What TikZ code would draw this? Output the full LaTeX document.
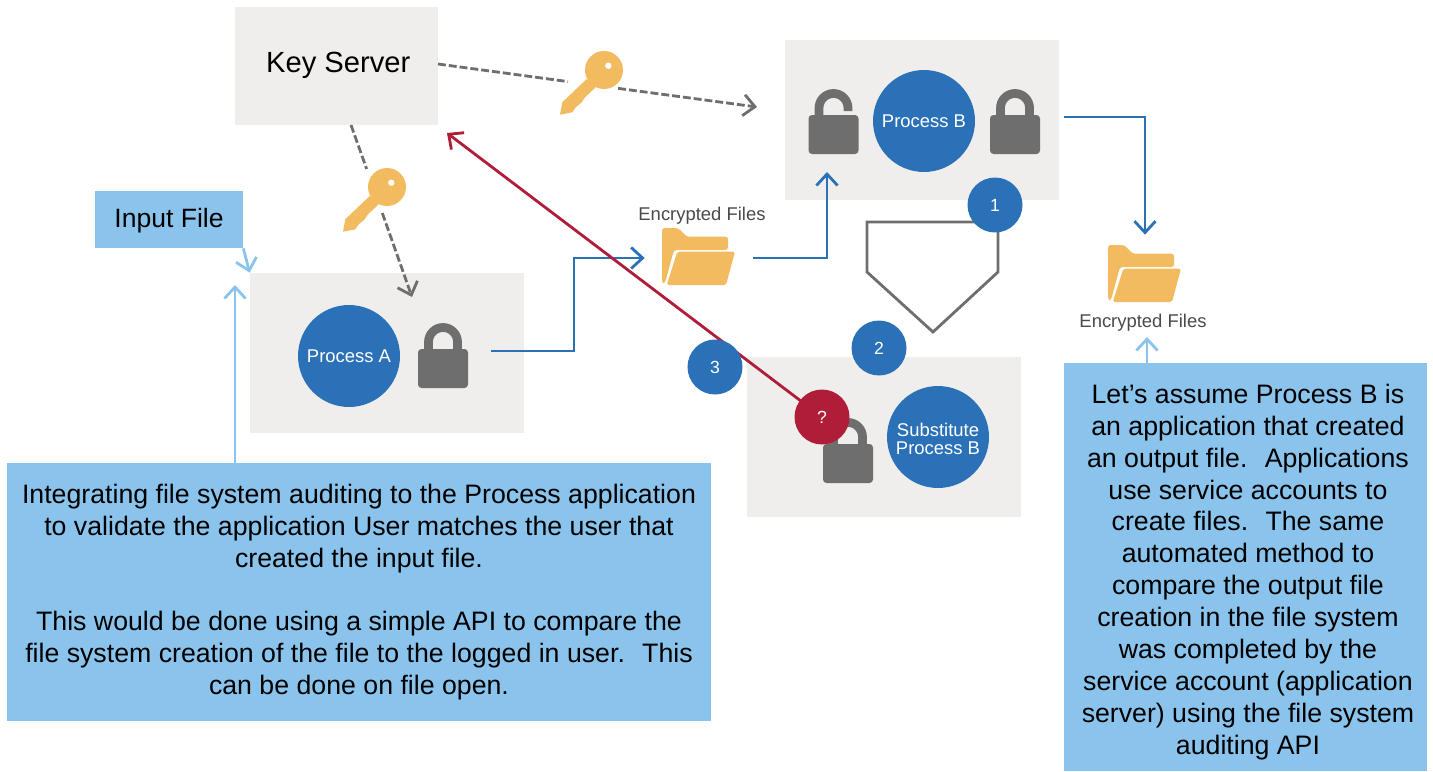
\documentclass[tikz,border=0pt]{standalone}
\usepackage{fontspec}
\setmainfont{Liberation Sans}
\usepackage{xcolor}
\usetikzlibrary{arrows.meta}

\definecolor{boxgray}{HTML}{EFEEED}
\definecolor{procblue}{HTML}{2B71B8}
\definecolor{noteblue}{HTML}{8AC4ED}
\definecolor{keyorange}{HTML}{F3BB60}
\definecolor{alertred}{HTML}{B01D38}
\definecolor{lockgray}{HTML}{6E6E6E}
\definecolor{labelgray}{HTML}{4A4A4A}

\tikzset{
    panel/.style={fill=boxgray, minimum width=5.48cm, minimum height=3.2cm, inner sep=0pt},
    process/.style={circle, fill=procblue, text=white, minimum size=2.04cm, inner sep=0pt, align=center,
        font=\fontsize{10.5}{10.2}\selectfont},
    badge/.style={circle, fill=procblue, text=white, minimum size=1.1cm, inner sep=0pt,
        font=\fontsize{10}{12}\selectfont},
    note/.style={fill=noteblue, inner sep=0pt, align=center, font=\fontsize{15.2}{18.15}\selectfont},
    slot/.style={inner sep=0pt, minimum width=#1},
    flow/.style={draw=procblue, line width=1.6pt, ->},
    noteflow/.style={draw=noteblue, line width=1.6pt, ->},
    keyflow/.style={draw=lockgray, line width=1.6pt, dash pattern=on 4.5pt off 1.7pt},
    padlock/.pic={
        \fill[lockgray, rounded corners=2pt] (-25,0) rectangle (25,-39);
        \draw[lockgray, line width=5pt] (-14.5,-1) -- (-14.5,7) arc (180:0:14.5) -- (14.5,-1);
    },
    openlock/.pic={
        \fill[lockgray, rounded corners=2pt] (-25,0) rectangle (25,-39);
        \draw[lockgray, line width=5pt] (-14.5,-1) -- (-14.5,7) arc (180:0:14.5) -- (14.5,4);
    },
    keyicon/.pic={
        \fill[keyorange] (0,0) circle (19);
        \fill[keyorange] (-17.3,-9) -- (-41.7,-32.3) -- (-44,-44.7) -- (-31.7,-42.3) -- (-28.3,-37.3)
            -- (-22.3,-32.3) -- (-19,-27.3) -- (-8.3,-17.3) -- cycle;
        \fill[white] (4.3,4.3) circle (3.2);
    },
    foldericon/.pic={
        \fill[keyorange, rounded corners=1.5pt] (0,0) -- (16,0) -- (24.7,-8.7) -- (66,-8.7) -- (66,-22)
            -- (12,-22) -- (3,-55) -- (0,-55) -- cycle;
        \fill[keyorange, rounded corners=1pt] (15.3,-23.7) -- (73,-23.7) -- (64,-57) -- (4.7,-57) -- cycle;
    },
}

\begin{document}
\begin{tikzpicture}[x=0.02cm, y=0.02cm, >={Straight Barb[length=6.5pt,width=12pt]}]
    \useasboundingbox (0,0) rectangle (1433,-771);

    % Panels
    \node[panel, minimum width=4.06cm, minimum height=2.36cm, font=\fontsize{16.6}{20}\selectfont] (keyServer) at (336.5,-66) {\hspace{2pt}\rule[-4.6pt]{0pt}{1pt}Key Server};
    \node[panel] (panelB) at (922,-120) {};
    \node[panel] (panelA) at (387,-353) {};
    \node[panel] (panelSub) at (884,-437) {};

    % Notes
    \node[fill=noteblue, minimum width=2.96cm, minimum height=1.14cm, inner sep=0pt, font=\fontsize{15.1}{18}\selectfont] (inputFile) at (169,-219.5) {\rule{0pt}{12.5pt}Input File};
    \node[note, minimum width=14.08cm, minimum height=5.16cm] (noteLeft) at (359,-592) {
        Integrating file system auditing to the Process application\\
        to validate the application User matches the user that\\
        created the input file.\\[18.15pt]
        This would be done using a simple API to compare the\\
        file system creation of the file to the logged in user.~ This\\
        can be done on file open.};
    \node[note, minimum width=7.26cm, minimum height=8.16cm] (noteRight) at (1245.5,-567) {%
        \hspace{2.8pt}\begin{tabular}{@{}c@{}}
        \rule{0pt}{18.8pt}Let’s assume Process B is\\
        an application that created\\
        an output file.~ Applications\\
        use service accounts to\\
        create files.~ The same\\
        automated method to\\
        compare the output file\\
        creation in the file system\\
        was completed by the\\
        service account (application\\
        server) using the file system\\
        auditing API
        \end{tabular}};

    % Anchors for the folders, locks and keys
    \node[slot=1.48cm, minimum height=1.14cm] (folderA) at (699,-258) {};
    \node[slot=1.48cm, minimum height=1.14cm] (folderB) at (1145,-273.5) {};
    \node[slot=1cm] (lockA) at (443,-351) {};
    \node[slot=1cm] (lockBright) at (1015,-117) {};
    \node[circle, slot=1cm] (keyB) at (593,-85) {};
    \node[circle, slot=0.92cm] (keyA) at (374.5,-191) {};
    \coordinate (ksRight) at (438,-64);
    \coordinate (ksBottom) at (351,-125);
    \coordinate (keyBtip) at (757,-107);
    \coordinate (keyAtip) at (412,-297);
    \coordinate (bendA) at (574,-351);
    \coordinate (bendB) at (827,-258);
    \coordinate (tipB) at (827,-172);
    \coordinate (bendOut) at (1145,-117);
    \coordinate (redTip) at (447,-133);
    \coordinate (noteLeftTop) at (235,-463);
    \coordinate (noteLeftTip) at (235,-285);
    \coordinate (noteRightTop) at (1147,-363);
    \coordinate (noteRightTip) at (1147,-337);

    % Key arrows
    \draw[keyflow] (ksRight) -- (keyB);
    \draw[keyflow, ->] (keyB) -- (keyBtip);
    \draw[keyflow] (ksBottom) -- (keyA);
    \draw[keyflow, ->] (keyA) -- (keyAtip);

    % Flow arrows
    \draw[flow, shorten <=0.46cm, shorten >=0.34cm] (lockA.east) -- (bendA) |- (folderA.west);
    \draw[flow, shorten <=0.34cm] (folderA.east) -- (bendB) -- (tipB);
    \draw[flow, shorten <=0.48cm, shorten >=0.2cm] (lockBright.east) -- (bendOut) -- (folderB.north);
    \draw[noteflow] (inputFile.south east) -- (panelA.north west);
    \draw[noteflow] (noteLeftTop) -- (noteLeftTip);
    \draw[noteflow] (noteRightTop) -- (noteRightTip);

    % Outline between the panels
    \draw[lockgray, line width=1.6pt] (867,-222) -- (998,-222) -- (998,-272) -- (933,-332) -- (867,-272) -- cycle;

    % Icons
    \pic[xshift=0.22cm, yshift=0.3cm] at (keyB) {keyicon};
    \pic[xshift=0.25cm, yshift=0.08cm] at (keyA) {keyicon};
    \pic at (662,-228) {foldericon};
    \pic at (1108,-245) {foldericon};
    \pic at (443,-349) {padlock};
    \pic at (833.5,-115) {openlock};
    \pic at (1015,-115) {padlock};
    \pic at (848,-444) {padlock};

    % Processes
    \node[process] (procA) at (349,-356) {Process A};
    \node[process] (procB) at (924,-121) {Process B};
    \node[process] (procSub) at (938,-437) {\rule{0pt}{9.8pt}Substitute\\Process B};

    % Red arrow and badges
    \coordinate (questionMid) at (822,-417);
    \draw[draw=alertred, line width=1.6pt, ->] (questionMid) -- (redTip);
    \node[badge, fill=alertred] (question) at (questionMid) {?};
    \node[badge] (stepOne) at (995,-205) {1};
    \node[badge] (stepTwo) at (879,-348) {2};
    \node[badge] (stepThree) at (715,-367) {3};

    % Folder labels
    \node[text=labelgray, inner sep=0pt, font=\fontsize{10.5}{12}\selectfont] (labelA) at (702,-216) {Encrypted Files};
    \node[text=labelgray, inner sep=0pt, font=\fontsize{10.5}{12}\selectfont] (labelB) at (1143,-323) {Encrypted Files};
\end{tikzpicture}
\end{document}
